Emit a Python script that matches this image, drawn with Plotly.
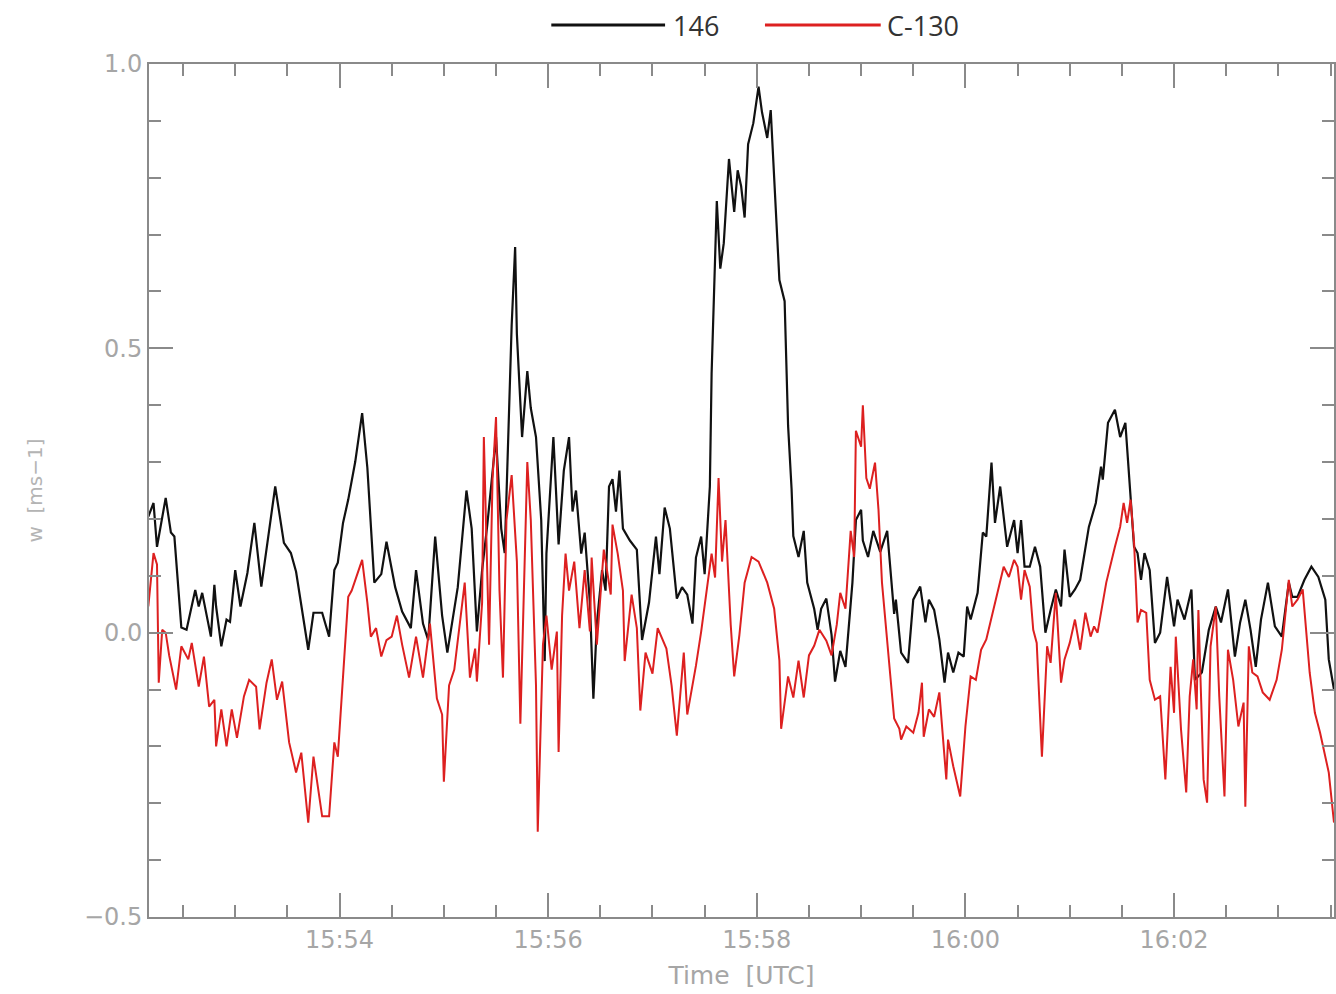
import pandas as pd
import plotly.graph_objects as go

# seconds after 15:52:00 UTC and vertical wind w [m/s]
t_146 = [10, 13, 15, 20, 23, 25, 29, 32, 37, 39, 41, 46, 48, 49, 52, 55, 57, 60, 63, 67, 71, 75, 79, 83, 88, 92, 95,
         102, 105, 110, 114, 117, 119, 122, 125, 129, 133, 136, 140, 144, 147, 152, 156, 161, 164, 168, 171, 175, 179,
         182, 188, 193, 196, 199, 202, 205, 210, 213, 215, 219, 221, 222, 225, 228, 230, 233, 236, 238, 239, 241, 243,
         246, 249, 252, 254, 256, 259, 261, 264, 266, 268, 271, 273, 275, 277, 279, 281, 283, 287, 291, 294, 298, 302,
         304, 307, 310, 314, 317, 320, 323, 325, 328, 330, 333, 334, 337, 339, 341, 344, 347, 349, 351, 353, 355, 358,
         361, 363, 366, 368, 373, 376, 378, 380, 381, 384, 387, 389, 393, 395, 397, 400, 403, 405, 408, 411, 415, 417,
         420, 421, 424, 427, 431, 435, 439, 440, 443, 447, 450, 454, 457, 459, 462, 465, 468, 470, 473, 476, 479, 481,
         483, 487, 490, 492, 495, 497, 500, 504, 508, 510, 512, 514, 517, 520, 523, 526, 529, 532, 535, 537, 540, 543,
         546, 549, 551, 555, 558, 559, 562, 566, 569, 572, 575, 577, 579, 581, 583, 586, 589, 592, 596, 600, 602, 606,
         610, 612, 616, 620, 624, 627, 631, 635, 638, 641, 644, 647, 650, 654, 658, 662, 666, 668, 671, 675, 679, 683,
         687, 689, 692]
w_146 = [0.204, 0.228, 0.151, 0.237, 0.176, 0.169, 0.009, 0.005, 0.075, 0.046, 0.07, -0.007, 0.084, 0.046, -0.024,
         0.023, 0.019, 0.11, 0.046, 0.105, 0.193, 0.081, 0.169, 0.257, 0.158, 0.14, 0.107, -0.03, 0.035, 0.035, -0.007,
         0.11, 0.123, 0.193, 0.234, 0.30, 0.386, 0.29, 0.088, 0.103, 0.16, 0.08, 0.037, 0.008, 0.11, 0.016, -0.013,
         0.169, 0.03, -0.035, 0.08, 0.25, 0.183, 0.002, 0.11, 0.19, 0.344, 0.183, 0.14, 0.54, 0.678, 0.525, 0.344,
         0.46, 0.395, 0.344, 0.198, -0.05, 0.139, 0.234, 0.344, 0.155, 0.285, 0.344, 0.213, 0.25, 0.139, 0.176, 0.053,
         -0.116, 0.016, 0.11, 0.074, 0.257, 0.27, 0.213, 0.285, 0.183, 0.162, 0.146, -0.013, 0.053, 0.169, 0.103,
         0.22, 0.183, 0.06, 0.08, 0.067, 0.016, 0.132, 0.169, 0.103, 0.257, 0.455, 0.759, 0.64, 0.685, 0.833, 0.74,
         0.813, 0.785, 0.73, 0.859, 0.896, 0.96, 0.915, 0.87, 0.919, 0.62, 0.583, 0.364, 0.253, 0.17, 0.133, 0.179,
         0.088, 0.042, 0.005, 0.042, 0.06, -0.004, -0.086, -0.032, -0.06, 0.088, 0.198, 0.216, 0.162, 0.133, 0.179,
         0.142, 0.179, 0.033, 0.058, -0.035, -0.053, 0.058, 0.081, 0.018, 0.058, 0.04, -0.012, -0.088, -0.035, -0.07,
         -0.035, -0.042, 0.046, 0.023, 0.07, 0.176, 0.169, 0.299, 0.193, 0.257, 0.151, 0.198, 0.14, 0.198, 0.116,
         0.116, 0.151, 0.116, 0.0, 0.04, 0.076, 0.046, 0.146, 0.063, 0.076, 0.093, 0.151, 0.186, 0.228, 0.292, 0.269,
         0.369, 0.392, 0.344, 0.369, 0.239, 0.151, 0.14, 0.093, 0.14, 0.11, -0.018, 0.0, 0.098, 0.011, 0.058, 0.023,
         0.076, -0.083, -0.07, 0.005, 0.046, 0.018, 0.076, -0.042, 0.018, 0.058, 0.005, -0.06, 0.023, 0.088, 0.011,
         -0.007, 0.088, 0.063, 0.063, 0.093, 0.116, 0.098, 0.058, -0.047, -0.1]

t_c130 = [10, 13, 15, 16, 18, 20, 22, 26, 29, 33, 35, 39, 42, 45, 48, 49, 52, 55, 58, 61, 65, 68, 72, 74, 78, 81, 84,
          87, 91, 95, 98, 102, 105, 110, 114, 117, 119, 122, 125, 127, 133, 136, 138, 141, 144, 147, 150, 153, 156,
          160, 164, 168, 172, 176, 179, 180, 183, 186, 192, 195, 198, 199, 202, 203, 206, 208, 210, 212, 214, 216, 219,
          222, 224, 228, 230, 233, 234, 237, 239, 242, 245, 246, 248, 250, 252, 255, 258, 261, 264, 265, 268, 272, 276,
          277, 280, 283, 284, 288, 291, 293, 296, 300, 303, 308, 311, 314, 318, 320, 325, 328, 331, 334, 336, 338, 340,
          342, 345, 347, 350, 353, 357, 361, 366, 370, 373, 374, 378, 381, 384, 387, 390, 393, 396, 400, 403, 406, 408,
          411, 414, 416, 417, 420, 421, 423, 425, 428, 430, 432, 436, 439, 442, 443, 446, 450, 453, 455, 456, 459, 462,
          465, 469, 470, 473, 477, 480, 483, 486, 489, 492, 496, 499, 502, 505, 508, 510, 512, 514, 517, 519, 521, 524,
          527, 529, 532, 535, 537, 540, 543, 546, 549, 552, 554, 556, 558, 561, 566, 569, 571, 573, 575, 577, 579, 581,
          584, 586, 589, 592, 595, 598, 600, 601, 604, 607, 609, 611, 613, 614, 617, 619, 621, 624, 626, 629, 631, 634,
          637, 640, 641, 643, 645, 648, 651, 655, 659, 662, 666, 668, 671, 674, 678, 681, 684, 689, 692]
w_c130 = [0.046, 0.14, 0.12, -0.088, 0.005, 0.0, -0.04, -0.10, -0.024, -0.047, -0.018, -0.095, -0.042, -0.13, -0.118,
          -0.2, -0.135, -0.2, -0.135, -0.185, -0.112, -0.083, -0.095, -0.17, -0.088, -0.047, -0.118, -0.086, -0.193,
          -0.246, -0.211, -0.334, -0.218, -0.323, -0.323, -0.193, -0.218, -0.083, 0.063, 0.074, 0.128, 0.053, -0.007,
          0.008, -0.042, -0.013, -0.007, 0.03, -0.021, -0.079, -0.007, -0.079, 0.016, -0.116, -0.144, -0.262, -0.093,
          -0.065, 0.088, -0.079, -0.028, -0.086, 0.053, 0.344, -0.021, 0.27, 0.379, 0.074, -0.079, 0.198, 0.277,
          0.125, -0.16, 0.30, 0.198, -0.093, -0.35, -0.021, 0.03, -0.065, 0.002, -0.21, 0.03, 0.139, 0.074, 0.125,
          0.008, 0.11, 0.002, 0.132, -0.021, 0.146, 0.067, 0.19, 0.139, 0.074, -0.05, 0.067, 0.008, -0.137, -0.035,
          -0.072, 0.008, -0.028, -0.093, -0.181, -0.035, -0.144, -0.058, 0.002, 0.067, 0.139, 0.097, 0.272, 0.125,
          0.198, 0.014, -0.077, -0.004, 0.088, 0.133, 0.125, 0.088, 0.042, -0.049, -0.169, -0.077, -0.114, -0.049,
          -0.114, -0.04, -0.023, 0.005, -0.014, -0.04, 0.014, 0.07, 0.042, 0.179, 0.133, 0.355, 0.327, 0.40, 0.272,
          0.253, 0.299, 0.216, 0.088, -0.049, -0.151, -0.169, -0.188, -0.165, -0.176, -0.141, -0.088, -0.183, -0.135,
          -0.148, -0.105, -0.258, -0.188, -0.235, -0.288, -0.165, -0.077, -0.083, -0.03, -0.012, 0.04, 0.081, 0.116,
          0.098, 0.128, 0.116, 0.058, 0.11, 0.081, 0.005, -0.018, -0.218, -0.024, -0.053, 0.07, -0.088, -0.047,
          -0.018, 0.023, -0.03, 0.035, -0.007, 0.011, 0.0, 0.035, 0.088, 0.151, 0.186, 0.228, 0.193, 0.234, 0.158,
          0.018, 0.04, 0.035, -0.083, -0.118, -0.112, -0.258, -0.06, -0.141, -0.007, -0.17, -0.281, -0.112, -0.047,
          -0.135, 0.04, -0.258, -0.299, -0.024, 0.046, -0.112, -0.288, -0.03, -0.083, -0.165, -0.123, -0.306, -0.024,
          -0.07, -0.077, -0.105, -0.118, -0.083, -0.03, 0.093, 0.046, 0.058, 0.076, -0.07, -0.141, -0.176, -0.246,
          -0.334]

series_names = ["146", "C-130"]
series_colors = ["#111111", "#dd2020"]
y_tick_vals = [-0.5, 0.0, 0.5, 1.0]
y_tick_text = ["\u22120.5", "0.0", "0.5", "1.0"]

base = pd.Timestamp("2000-01-01 15:52:00")


def to_time(secs):
    return [base + pd.Timedelta(seconds=s) for s in secs]


fig = go.Figure()
fig.add_trace(go.Scatter(x=to_time(t_146), y=w_146, mode="lines", name=series_names[0],
                         line=dict(color=series_colors[0], width=2.2), showlegend=False))
fig.add_trace(go.Scatter(x=to_time(t_c130), y=w_c130, mode="lines", name=series_names[1],
                         line=dict(color=series_colors[1], width=2.0), showlegend=False))

axis_col = "#8a8a8a"
lab_col = "#a6a6a6"
tick_font = dict(family="DejaVu Sans", size=24, color=lab_col)

fig.update_xaxes(
    type="date",
    range=[base + pd.Timedelta(seconds=10.4), base + pd.Timedelta(seconds=692)],
    tick0=base, dtick=120000, tickformat="%H:%M",
    ticks="inside", ticklen=24, tickwidth=1.5, tickcolor=axis_col,
    minor=dict(dtick=30000, ticks="inside", ticklen=12, tickwidth=1.5, tickcolor=axis_col, showgrid=False),
    showline=True, linecolor=axis_col, linewidth=2, mirror="ticks",
    showgrid=False, zeroline=False, tickfont=tick_font,
    title=dict(text="Time  [UTC]", font=dict(family="DejaVu Sans", size=25, color=lab_col), standoff=14),
)
fig.update_yaxes(
    range=[-0.5, 1.0],
    tickvals=y_tick_vals, ticktext=y_tick_text,
    ticks="inside", ticklen=24, tickwidth=1.5, tickcolor=axis_col,
    minor=dict(dtick=0.1, tick0=0, ticks="inside", ticklen=12, tickwidth=1.5, tickcolor=axis_col, showgrid=False),
    showline=True, linecolor=axis_col, linewidth=2, mirror="ticks",
    showgrid=False, zeroline=False, tickfont=tick_font,
    title=dict(text="w  [ms\u22121]", font=dict(family="DejaVu Sans", size=20, color="#b4b4b4"), standoff=36),
)

# legend drawn as line samples + labels above the plot
leg_y = 1.0457
fig.add_shape(type="line", xref="paper", yref="paper", x0=0.3395, x1=0.4355, y0=leg_y, y1=leg_y,
              line=dict(color=series_colors[0], width=3))
fig.add_shape(type="line", xref="paper", yref="paper", x0=0.5198, x1=0.6175, y0=leg_y, y1=leg_y,
              line=dict(color=series_colors[1], width=3))
fig.add_annotation(xref="paper", yref="paper", x=0.4405, y=leg_y, text=series_names[0], showarrow=False,
                   xanchor="left", yanchor="middle", font=dict(family="Open Sans", size=27, color="#333333"))
fig.add_annotation(xref="paper", yref="paper", x=0.6215, y=leg_y, text=series_names[1], showarrow=False,
                   xanchor="left", yanchor="middle", font=dict(family="Open Sans", size=27, color="#333333"))

fig.update_layout(
    width=1336, height=994,
    margin=dict(l=149, r=0, t=64, b=77),
    paper_bgcolor="white", plot_bgcolor="white",
    showlegend=False,
)

fig.write_html("out.html")
